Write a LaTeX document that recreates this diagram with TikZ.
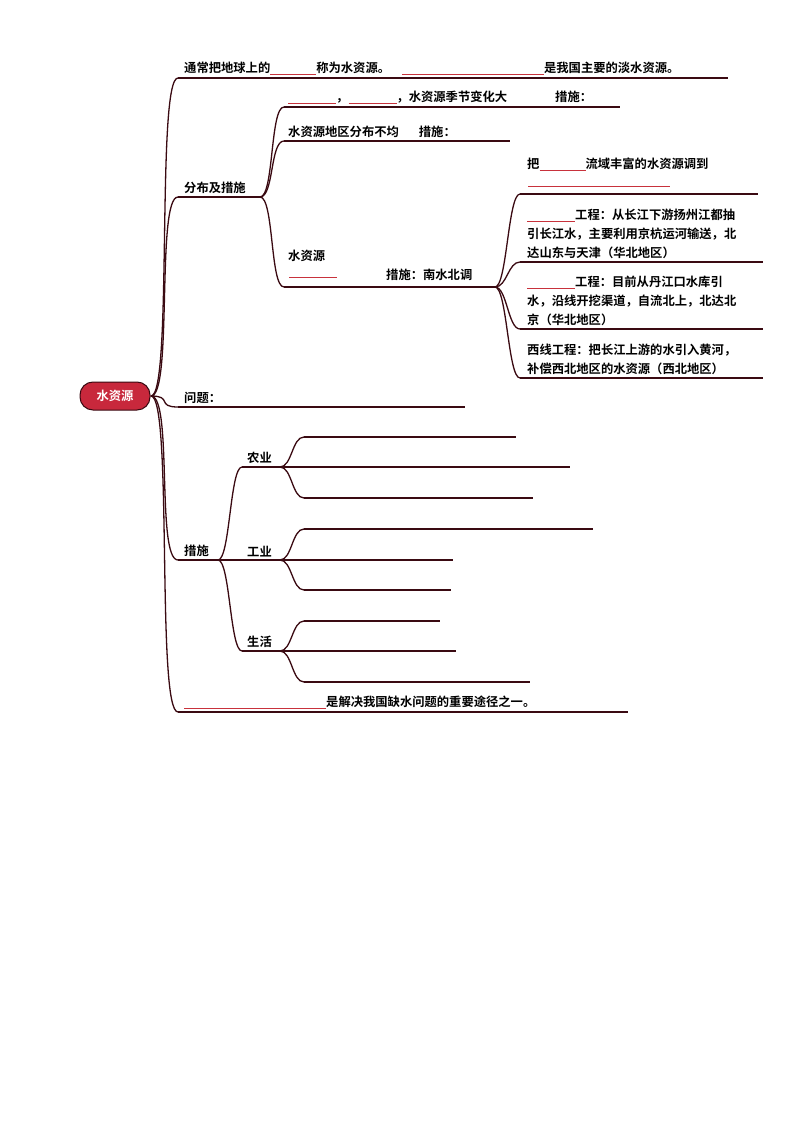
\documentclass[tikz,border=0pt]{standalone}
\usepackage{fontspec}
\setmainfont{Noto Sans CJK SC}[BoldFont={Noto Sans CJK SC Bold}]
\usetikzlibrary{calc}
\definecolor{ln}{HTML}{3A0A12}
\definecolor{bl}{HTML}{C8323C}
\definecolor{rt}{HTML}{C8283C}
\newcommand{\blk}[1]{{\color{bl}\rule[-2pt]{#1pt}{0.7pt}}}
\newcommand{\br}[3][14]{\draw[ln,line width=1.3pt] (#2) .. controls ($(#2)+(#1,0)$) and ($(#3)-(#1,0)$) .. (#3);}
\begin{document}
\begin{tikzpicture}[x=1pt,y=-1pt,
  t/.style={anchor=south west,inner sep=1pt,font=\fontsize{12.3}{19}\selectfont\bfseries},
  hl/.style={ln,line width=1.1pt}]
\useasboundingbox (0,0) rectangle (794,1123);
% root
\node[fill=rt,draw=ln,line width=1pt,rounded corners=13pt,minimum width=70pt,minimum height=28pt,text=white,font=\fontsize{12.3}{14}\selectfont\bfseries] (root) at (115,396) {水资源};
\coordinate (r) at (151,396);
% level1
\coordinate (a1) at (178,78); \coordinate (a1e) at (728,78);
\coordinate (a2) at (178,197); \coordinate (a2e) at (260,197);
\coordinate (a3) at (178,407); \coordinate (a3e) at (465,407);
\coordinate (a4) at (178,560); \coordinate (a4e) at (218,560);
\coordinate (a5) at (178,712); \coordinate (a5e) at (628,712);
\foreach \p in {a1,a2,a3,a4,a5}{\br[22]{r}{\p}}
\draw[hl] (a1)--(a1e); \draw[hl] (a2)--(a2e); \draw[hl] (a3)--(a3e); \draw[hl] (a4)--(a4e); \draw[hl] (a5)--(a5e);
\node[t] (t1) at (183,76) {通常把地球上的\blk{46}称为水资源。\hspace{12pt}\blk{142}是我国主要的淡水资源。};
\node[t] (t2) at (183,195) {分布及措施};
\node[t] (t3) at (183,405) {问题：};
\node[t] (t4) at (183,558) {措施};
\node[t] (t5) at (183,710) {\blk{142}是解决我国缺水问题的重要途径之一。};
% level2 under 分布及措施
\coordinate (b1) at (284,107); \coordinate (b1e) at (620,107);
\coordinate (b2) at (284,141); \coordinate (b2e) at (510,141);
\coordinate (b3) at (284,287); \coordinate (b3e) at (495,287);
\foreach \p in {b1,b2,b3}{\br[14]{a2e}{\p}}
\draw[hl] (b1)--(b1e); \draw[hl] (b2)--(b2e); \draw[hl] (b3)--(b3e);
\node[t] (u1) at (287,105) {\blk{48}，\blk{48}，水资源季节变化大\hspace{48pt}措施：};
\node[t] (u2) at (287,139) {水资源地区分布不均\hspace{20pt}措施：};
\node[t] (u3) at (287,263) {水资源};
\node (u3b) at (313,277) {\blk{48}};
\node[t] (u4) at (385,282) {措施：南水北调};
% level3
\coordinate (c1) at (520,194); \coordinate (c1e) at (758,194);
\coordinate (c2) at (520,262); \coordinate (c2e) at (763,262);
\coordinate (c3) at (520,329); \coordinate (c3e) at (763,329);
\coordinate (c4) at (520,378); \coordinate (c4e) at (763,378);
\foreach \p in {c1,c2,c3,c4}{\br[12]{b3e}{\p}}
\draw[hl] (c1)--(c1e); \draw[hl] (c2)--(c2e); \draw[hl] (c3)--(c3e); \draw[hl] (c4)--(c4e);
\node[t] (v1) at (526,172) {把\blk{46}流域丰富的水资源调到};
\node (v1b) at (599,186) {\blk{142}};
\node[t,align=left] (v2) at (526,260) {\blk{48}工程：从长江下游扬州江都抽\\引长江水，主要利用京杭运河输送，北\\达山东与天津（华北地区）};
\node[t,align=left] (v3) at (526,327) {\blk{48}工程：目前从丹江口水库引\\水，沿线开挖渠道，自流北上，北达北\\京（华北地区）};
\node[t,align=left] (v4) at (526,376) {西线工程：把长江上游的水引入黄河，\\补偿西北地区的水资源（西北地区）};
% 措施 subtree
\coordinate (d1) at (242,467); \coordinate (d1e) at (280,467);
\coordinate (d2) at (242,560); \coordinate (d2e) at (280,560);
\coordinate (d3) at (242,651); \coordinate (d3e) at (280,651);
\foreach \p in {d1,d2,d3}{\br[12]{a4e}{\p}}
\draw[hl] (d1)--(d1e); \draw[hl] (d2)--(d2e); \draw[hl] (d3)--(d3e);
\node[t] (w1) at (246,465) {农业};
\node[t] (w2) at (246,558) {工业};
\node[t] (w3) at (246,649) {生活};
\foreach \s/\y/\e in {d1e/437/516,d1e/467/570,d1e/498/533,d2e/529/593,d2e/560/453,d2e/590/451,d3e/621/440,d3e/651/456,d3e/682/530}{
  \coordinate (q) at (304,\y);
  \br[12]{\s}{q}
  \draw[hl] (q)--(\e,\y);
}
\end{tikzpicture}
\end{document}
